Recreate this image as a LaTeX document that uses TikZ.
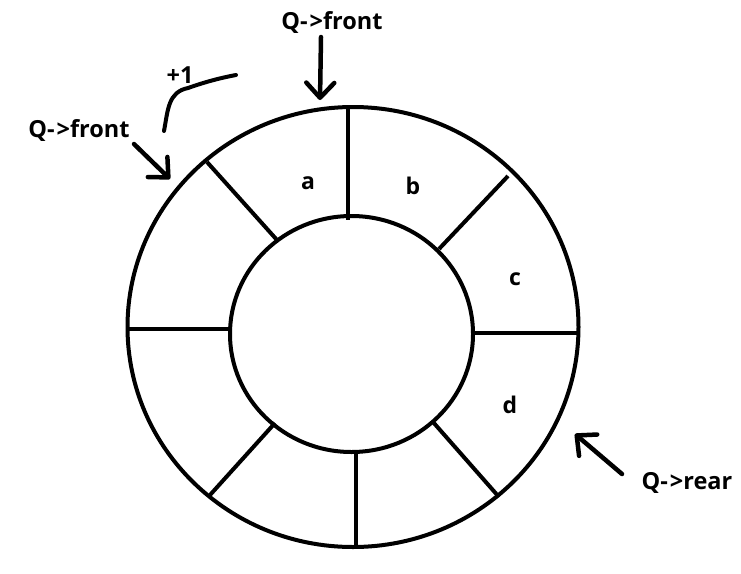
\documentclass[tikz,border=0pt]{standalone}
\usepackage{fontspec}
\setmainfont{Open Sans}
\usetikzlibrary{arrows.meta}
\begin{document}
\begin{tikzpicture}[x=1pt,y=-1pt,
  ring/.style={line width=4pt},
  spoke/.style={line width=4pt},
  lbl/.style={font=\fontsize{23.5}{26}\selectfont\bfseries, inner sep=0pt},
  cell/.style={font=\fontsize{23}{26}\selectfont\bfseries, inner sep=0pt},
  ptr/.style={line width=4.5pt, line cap=round, line join=round,
    -{Straight Barb[length=15pt,width=28pt,line width=4.5pt, line cap=round, line join=round]}},
  ]
\useasboundingbox (0,0) rectangle (741,573);
% rings
\draw[ring] (353,327) ellipse [x radius=225.5, y radius=220];
\draw[ring] (351.5,334) ellipse [x radius=121.5, y radius=118];
% spokes
\draw[spoke] (347.7,107) -- (347.7,220);
\draw[spoke] (207,162) -- (277,240);
\draw[spoke] (508,176) -- (439,249);
\draw[spoke] (473,333) -- (578,333);
\draw[spoke] (128,329) -- (230,329);
\draw[spoke] (275,423) -- (210,495);
\draw[spoke] (356,452) -- (356,547);
\draw[spoke] (433,422) -- (499,497);
% cell labels
\node[cell] (ca) at (308,183) {a};
\node[cell] (cb) at (413,186) {b};
\node[cell] (cc) at (515,279) {c};
\node[cell] (cd) at (510,405) {d};
% pointer labels
\node[lbl] (qf1) at (332,23) {Q-\kern2pt>front};
\node[lbl] (qf2) at (79,131) {Q-\kern2pt>front};
\node[lbl] (qr) at (687,483) {Q-\kern2pt>rear};
\node[lbl] (p1) at (180,75) {+1};
% arrows
\coordinate (qf1s) at (321,37);
\coordinate (qf1e) at (320,100);
\coordinate (qf2s) at (134,144);
\coordinate (qf2e) at (170,179);
\coordinate (qrs) at (622,474);
\coordinate (qre) at (575,434);
\draw[ptr] (qf1s) -- (qf1e);
\draw[ptr] (qf2s) -- (qf2e);
\draw[ptr] (qrs) -- (qre);
% +1 curve
\coordinate (c1) at (164,131);
\coordinate (c2) at (236,75);
\draw[line width=4pt, line cap=round] (c1) .. controls (168,110) and (168,92) .. (188,88) .. controls (205,82) and (220,78) .. (c2);
\end{tikzpicture}
\end{document}
